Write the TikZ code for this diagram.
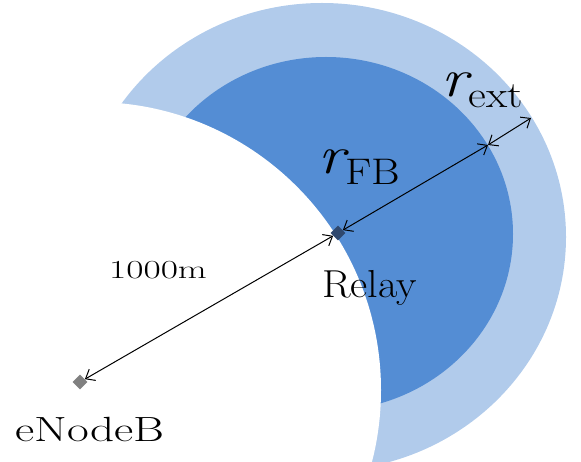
\documentclass[tikz,border=0pt]{standalone}
\usepackage{fontspec}
\usepackage{graphicx}
\usetikzlibrary{arrows.meta,shapes.geometric}
\definecolor{lightb}{RGB}{177,203,235}
\definecolor{darkb}{RGB}{84,141,212}
\definecolor{relayc}{RGB}{47,72,110}
\definecolor{enbc}{RGB}{128,128,128}
\newcommand{\rsub}[1]{\scalebox{1.18}[1]{{\fontsize{54}{60}\selectfont\itshape r}\kern1pt\raisebox{-11pt}{\fontsize{37}{40}\selectfont #1}}}
\begin{document}
\begin{tikzpicture}[x=1pt,y=-1pt,
  conn/.style={{Straight Barb[length=8pt,width=13pt,line width=1pt]}-{Straight Barb[length=8pt,width=13pt,line width=1pt]}, line width=1pt},
  site/.style={diamond, inner sep=0pt, minimum width=15pt, minimum height=15pt},
  lbl/.style={inner sep=0pt, anchor=base west}]
\useasboundingbox (0,0) rectangle (581,462);
\fill[lightb] (322,237) ellipse [x radius=244, y radius=234];
\fill[darkb] (326,234) ellipse [x radius=187, y radius=177];
\fill[white] (93,390) circle [radius=288];
\node[site, fill=enbc] (enb) at (80,382) {};
\node[site, fill=relayc] (relay) at (338,233) {};
\coordinate (fb) at (488,145);
\coordinate (ext) at (531,118);
\draw[conn] (enb) -- (relay);
\draw[conn] (relay) -- (fb);
\draw[conn] (fb) -- (ext);
\node[lbl] (lenb) at (15,441) {\fontsize{35}{40}\selectfont\scalebox{1.35}[1]{eNodeB}};
\node[lbl] (lrel) at (322,298) {\fontsize{39}{44}\selectfont\scalebox{1.08}[1]{Relay}};
\node[lbl] (ldist) at (109,279) {\fontsize{26}{30}\selectfont\scalebox{1.44}[1]{1000m}};
\node[lbl] (lfb) at (318,174) {\rsub{FB}};
\node[lbl] (lext) at (441,97) {\rsub{ext}};
\end{tikzpicture}
\end{document}
